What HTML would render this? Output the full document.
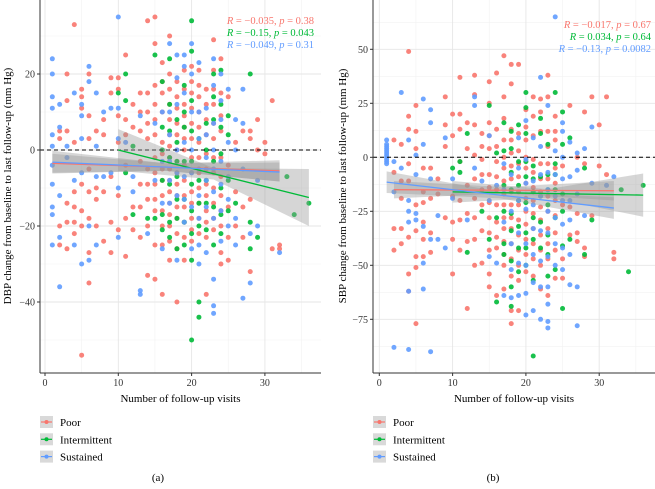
<!DOCTYPE html>
<html><head><meta charset="utf-8">
<style>
body{margin:0;background:#fff;width:655px;height:484px;overflow:hidden;font-family:"Liberation Serif",serif}
svg text{font-family:"Liberation Serif",serif}
</style></head>
<body>
<svg id="chart" width="655" height="484" xmlns="http://www.w3.org/2000/svg"></svg>
<script>
const seriesNames=["Poor","Intermittent","Sustained"];
const seriesColors=["#F8766D","#00BA38","#619CFF"];
const xTicks=[0,10,20,30];
const yTicksA=[20,0,-20,-40];
const yTicksB=[50,25,0,-25,-50,-75];
const annotA=[["R = \u22120.035, ","p"," = 0.38"],["R = \u22120.15, ","p"," = 0.043"],["R = \u22120.049, ","p"," = 0.31"]];
const annotB=[["R = \u22120.017, ","p"," = 0.67"],["R = 0.034, ","p"," = 0.64"],["R = \u22120.13, ","p"," = 0.0082"]];
const poorA=[[2,3],[2,-20],[2,-25],[2,5],[3,20],[3,13],[3,-19],[3,-26],[3,-14],[3,5],[4,33],[4,2],[4,-11],[4,-15],[4,-19],[4,-22],[5,16],[5,14],[5,11],[5,-9],[5,-16],[5,-20],[5,-54],[6,20],[6,9],[6,3],[6,-5],[6,-11],[6,-18],[6,-27],[6,-35],[7,5],[7,-10],[7,-13],[7,-20],[8,8],[8,4],[8,-11],[8,-24],[9,19],[9,15],[9,-7],[9,-19],[9,-27],[10,19],[10,16],[10,9],[10,2],[10,-12],[10,-21],[11,25],[11,8],[11,4],[11,-4],[11,-18],[11,-28],[12,12],[12,6],[12,-15],[12,-21],[13,15],[13,5],[13,-9],[13,-23],[14,34],[14,15],[14,10],[14,3],[14,-5],[14,-13],[14,-20],[14,-33],[15,35],[15,28],[15,17],[15,12],[15,8],[15,-2],[15,-9],[15,-16],[15,-25],[15,-34],[16,23],[16,15],[16,10],[16,2],[16,-5],[16,-12],[16,-20],[16,-38],[17,30],[17,20],[17,16],[17,8],[17,1],[17,-5],[17,-11],[17,-17],[17,-24],[17,-29],[18,18],[18,11],[18,4],[18,-3],[18,-9],[18,-15],[18,-22],[18,-40],[19,21],[19,16],[19,9],[19,3],[19,-4],[19,-12],[19,-19],[19,-29],[20,22],[20,15],[20,7],[20,-2],[20,-11],[20,-18],[20,-24],[21,21],[21,14],[21,6],[21,-6],[21,-14],[21,-22],[22,16],[22,8],[22,-1],[22,-9],[22,-16],[22,-23],[22,-38],[23,29],[23,21],[23,12],[23,3],[23,-6],[23,-14],[23,-21],[24,24],[24,9],[24,-2],[24,-12],[24,-20],[24,-27],[24,-30],[25,14],[25,-4],[25,-15],[25,-23],[25,-29],[26,2],[26,-11],[26,-20],[27,5],[27,-15],[27,-23],[28,5],[28,3],[28,-13],[28,-32],[29,8],[29,0],[30,2],[30,-1],[31,13],[31,-26],[32,-25],[32,-26],
[16,18],[16,-1],[16,-8],[16,-16],[16,-25],[17,12],[17,4],[17,-2],[17,-8],[17,-14],[17,-20],[18,14],[18,7],[18,0],[18,-6],[18,-12],[18,-18],[18,-26],[19,12],[19,6],[19,0],[19,-8],[19,-15],[19,-23],[20,18],[20,11],[20,3],[20,-6],[20,-14],[20,-21],[21,17],[21,10],[21,2],[21,-2],[21,-10],[21,-18],[22,12],[22,4],[22,-5],[22,-12],[22,-19],[23,16],[23,7],[23,-2],[23,-10],[23,-18],[24,15],[24,5],[24,-7],[24,-16],[15,4],[15,-6],[15,-13],[14,-9],[14,7],[13,10],[13,-3],[13,-15]];
const interA=[[10,15],[11,20],[11,13],[11,-6],[12,1],[12,-17],[14,-18],[15,25],[15,-18],[16,18],[16,6],[16,-8],[16,-17],[16,-21],[17,24],[17,12],[17,5],[17,-9],[17,-19],[17,-23],[18,8],[18,2],[18,-7],[18,-13],[18,-26],[19,17],[19,6],[19,-3],[19,-13],[19,-25],[20,34],[20,26],[20,13],[20,5],[20,-9],[20,-16],[20,-29],[20,-50],[21,3],[21,-8],[21,-20],[21,-40],[21,-44],[22,7],[22,-14],[22,-21],[23,20],[23,14],[23,-3],[23,-15],[23,-25],[24,21],[24,12],[24,6],[24,-1],[24,-17],[24,-22],[25,9],[25,4],[25,-16],[26,-14],[28,20],[28,-19],[28,-26],[29,-23],[33,-7],[34,-17],[36,-14],
[18,-3],[18,-18],[19,10],[19,-19],[20,-3],[20,-22],[21,-14],[22,0],[22,-8],[23,8],[24,-10],[25,-8],[17,-2],[16,0]];
const sustA=[[1,24],[1,20],[1,14],[1,11],[1,4],[1,1],[1,-4],[1,-9],[1,-15],[1,-17],[1,-25],[2,12],[2,6],[2,-12],[2,-23],[2,-36],[3,1],[3,-2],[4,15],[4,-8],[4,-25],[5,12],[5,9],[5,3],[5,-6],[5,-30],[6,22],[6,18],[6,-20],[6,-29],[7,15],[7,1],[7,-7],[7,-25],[8,10],[8,-7],[9,11],[9,-6],[10,35],[10,11],[10,3],[10,-10],[10,-23],[11,2],[12,-7],[12,-11],[13,9],[13,-37],[13,-38],[14,-22],[15,7],[15,-8],[16,10],[16,-3],[16,-14],[16,-26],[17,28],[17,10],[17,-3],[17,-14],[18,25],[18,19],[18,-6],[18,-29],[19,25],[19,22],[19,-7],[19,-19],[20,28],[20,20],[20,0],[20,-15],[20,-26],[21,23],[21,10],[21,-12],[21,-25],[21,-30],[22,11],[22,4],[22,-8],[22,-27],[23,24],[23,17],[23,7],[23,-11],[23,-34],[23,-41],[23,-43],[24,20],[24,8],[24,-9],[24,-24],[25,16],[25,-7],[25,-13],[26,8],[26,-18],[26,-25],[27,16],[27,7],[27,-5],[27,-39],[28,-22],[28,-35],[29,-8],[29,-20],[32,-27],
[17,4],[17,-8],[18,12],[18,0],[18,-12],[19,15],[19,2],[19,-13],[20,10],[20,-6],[21,3],[21,-5],[21,-18],[22,-2],[22,-15],[23,0],[23,-5],[23,-18],[24,13],[24,-3],[24,-16],[25,2],[25,-20],[26,0]];
const poorB=[[2,8],[2,-7],[2,-33],[2,-43],[3,6],[3,-11],[3,-19],[3,-33],[3,-40],[4,49],[4,19],[4,13],[4,-3],[4,-11],[4,-37],[4,-54],[4,-62],[5,24],[5,12],[5,4],[5,-22],[5,-34],[5,-46],[5,-51],[5,-77],[6,-5],[6,-16],[6,-21],[6,-30],[6,-38],[6,-46],[7,-5],[7,-19],[7,-35],[7,-44],[8,-10],[8,-17],[9,28],[9,15],[9,5],[9,-28],[10,20],[10,10],[10,-18],[10,-30],[10,-38],[10,-54],[11,37],[11,20],[11,13],[11,-2],[11,-20],[11,-29],[11,-43],[12,16],[12,4],[12,-13],[12,-26],[12,-39],[12,-70],[13,38],[13,29],[13,15],[13,1],[13,-19],[13,-38],[13,-50],[14,11],[14,5],[14,-8],[14,-22],[14,-34],[14,-49],[15,35],[15,25],[15,16],[15,4],[15,-8],[15,-21],[15,-35],[15,-43],[15,-54],[15,-60],[16,39],[16,13],[16,-2],[16,-15],[16,-30],[16,-42],[16,-64],[17,47],[17,28],[17,18],[17,8],[17,-5],[17,-17],[17,-28],[17,-39],[17,-50],[17,-61],[18,43],[18,34],[18,13],[18,2],[18,-10],[18,-22],[18,-33],[18,-47],[18,-71],[18,-77],[19,43],[19,11],[19,-3],[19,-16],[19,-29],[19,-43],[19,-57],[19,-71],[20,22],[20,8],[20,-5],[20,-19],[20,-31],[20,-45],[20,-53],[21,28],[21,19],[21,-1],[21,-14],[21,-26],[21,-40],[21,-55],[22,27],[22,21],[22,-10],[22,-23],[22,-36],[22,-50],[22,-61],[23,38],[23,28],[23,12],[23,-3],[23,-18],[23,-33],[23,-47],[23,-64],[24,19],[24,8],[24,-12],[24,-27],[24,-43],[24,-56],[25,-4],[25,-22],[25,-47],[25,-56],[26,24],[26,-23],[26,-36],[27,0],[27,-26],[27,-35],[27,-39],[28,21],[28,-3],[28,-42],[28,-46],[29,28],[29,-27],[30,15],[30,-4],[31,28],[31,-8],[32,-44],[32,-47],
[16,5],[16,-9],[16,-22],[16,-37],[17,0],[17,-11],[17,-22],[17,-33],[17,-45],[18,8],[18,-4],[18,-16],[18,-28],[18,-40],[18,-55],[19,3],[19,-9],[19,-22],[19,-36],[19,-50],[20,14],[20,0],[20,-12],[20,-25],[20,-38],[21,10],[21,-7],[21,-20],[21,-33],[21,-47],[22,12],[22,-3],[22,-16],[22,-29],[22,-43],[23,5],[23,-10],[23,-25],[23,-40],[24,12],[24,-5],[24,-20],[24,-35],[15,10],[15,-14],[15,-28],[14,-15],[14,-1],[13,-10],[13,-28]];
const interB=[[10,-5],[11,-2],[11,-7],[12,11],[12,-44],[14,-25],[15,24],[15,-38],[16,2],[16,-28],[16,-67],[17,16],[17,3],[17,-13],[17,-40],[17,-45],[18,12],[18,4],[18,-7],[18,-26],[18,-34],[18,-60],[18,-69],[19,15],[19,-2],[19,-13],[19,-42],[19,-53],[20,30],[20,23],[20,11],[20,-9],[20,-21],[20,-35],[20,-50],[21,-4],[21,-16],[21,-28],[21,-57],[21,-92],[22,18],[22,11],[22,-9],[22,-30],[22,-42],[23,6],[23,-8],[23,-22],[23,-36],[23,-55],[24,30],[24,-3],[24,-15],[24,-28],[24,-52],[25,21],[25,6],[25,-17],[25,-41],[25,-70],[26,9],[26,-38],[28,-5],[28,-45],[29,-29],[33,-15],[34,-53],[36,-13],
[17,-25],[18,-15],[18,-48],[19,-20],[19,-32],[20,-2],[20,-42],[21,-10],[21,-38],[22,-18],[23,-15],[23,-45],[24,-8],[25,-25]];
const sustB=[[1,8],[1,6],[1,5],[1,4],[1,3],[1,2],[1,1],[1,0],[1,-1],[1,-2],[1,-3],[2,-2],[2,-16],[2,-88],[3,30],[3,-5],[4,8],[4,-20],[4,-25],[4,-30],[4,-62],[4,-89],[5,1],[5,-8],[5,-26],[5,-29],[6,27],[6,6],[6,-32],[6,-49],[6,-61],[7,22],[7,16],[7,-10],[7,-38],[7,-90],[8,-27],[8,-38],[9,9],[9,-42],[10,-10],[10,-19],[12,-29],[13,28],[13,24],[13,-5],[14,-11],[15,10],[15,-20],[15,-46],[16,-13],[16,-49],[17,-3],[17,-30],[17,-64],[18,-8],[18,-40],[18,-65],[19,9],[19,-20],[19,-49],[19,-64],[20,17],[20,-1],[20,-24],[20,-40],[20,-63],[20,-73],[21,9],[21,-11],[21,-33],[21,-45],[21,-71],[22,37],[22,5],[22,-18],[22,-34],[22,-48],[22,-75],[23,24],[23,-7],[23,-25],[23,-46],[23,-60],[23,-68],[23,-76],[23,-79],[24,65],[24,3],[24,-18],[24,-40],[25,16],[25,12],[25,-10],[25,-31],[25,-52],[26,7],[26,-9],[26,-29],[26,-45],[26,-59],[27,2],[27,-6],[27,-17],[27,-60],[27,-78],[28,4],[28,-27],[29,14],[29,-12],[31,-13],[32,-9],
[17,-15],[18,-25],[18,-52],[19,-5],[19,-35],[20,-12],[20,-50],[21,-22],[21,-58],[22,-8],[22,-60],[23,-15],[23,-35],[24,-8],[24,-28],[24,-50],[25,0],[25,-20],[25,-42],[26,-20]];
// fits: [x0, y0, x1, y1, seStart, seMid, seEnd]
const fitsA=[[1,-3.5,32,-5.5,2.5,1,2.8],[10,0,36,-12.5,5.5,1.5,7.5],[1,-3.2,32,-5.8,3,1,2.5]];
const fitsB=[[2,-15,32,-15.5,4,1.5,4.5],[10,-16,36,-17.5,5,2,10],[1,-11.5,32,-23.5,5,1.5,5]];

const svg=document.getElementById('chart');
const NS='http://www.w3.org/2000/svg';
function mk(tag,attrs,parent){const e=document.createElementNS(NS,tag);for(const k in attrs)e.setAttribute(k,attrs[k]);(parent||svg).appendChild(e);return e;}

function panel(cfg){
  const g=mk('g',{});
  
  
  const X=v=>cfg.x0px+(v-0)*cfg.xs;
  const Y=v=>cfg.y0px-v*cfg.ys;
  const L=cfg.left,R=cfg.right,T=0,B=373;
  mk('rect',{x:L,y:T,width:R-L,height:B-T,fill:'#fff'},g);
  for(let v=-5;v<=40;v+=10){const px=X(v);if(px>L&&px<R)mk('line',{x1:px,x2:px,y1:T,y2:B,stroke:'#f2f2f2','stroke-width':0.6},g);}
  for(let v=cfg.yMinorStart;v<=cfg.yMax;v+=cfg.yStep){const py=Y(v);if(py>T&&py<B)mk('line',{x1:L,x2:R,y1:py,y2:py,stroke:'#f2f2f2','stroke-width':0.6},g);}
  for(const v of xTicks)mk('line',{x1:X(v),x2:X(v),y1:T,y2:B,stroke:'#e6e6e6','stroke-width':0.9},g);
  for(const v of cfg.yTicks)mk('line',{x1:L,x2:R,y1:Y(v),y2:Y(v),stroke:'#e6e6e6','stroke-width':0.9},g);
  cfg.series.forEach((pts,si)=>{
    const sg=mk('g',{},g);
    
    
    for(const p of pts){mk('circle',{cx:X(p[0]),cy:Y(p[1]),r:2.5,fill:seriesColors[si],'fill-opacity':0.9},sg);}
  });
  const zl=mk('line',{x1:L,x2:R,y1:Y(0),y2:Y(0),stroke:'#000','stroke-width':1,'stroke-dasharray':'4,3'},g);
  
  
  cfg.fits.forEach((f,si)=>{
    const [x0,y0,x1,y1,s0,sm,s1]=f;const xm=(x0+x1)/2,ym=(y0+y1)/2;
    const band=mk('polygon',{points:[[x0,y0+s0],[xm,ym+sm],[x1,y1+s1],[x1,y1-s1],[xm,ym-sm],[x0,y0-s0]].map(p=>X(p[0])+','+Y(p[1])).join(' '),fill:'#999','fill-opacity':0.4},g);
    
    
  });
  cfg.fits.forEach((f,si)=>{
    const ln=mk('line',{x1:X(f[0]),y1:Y(f[1]),x2:X(f[2]),y2:Y(f[3]),stroke:seriesColors[si],'stroke-width':1.3},g);
    
    
  });
  mk('line',{x1:L,x2:L,y1:T,y2:B,stroke:'#333','stroke-width':1},g);
  mk('line',{x1:L,x2:R,y1:B,y2:B,stroke:'#333','stroke-width':1},g);
  for(const v of xTicks){mk('line',{x1:X(v),x2:X(v),y1:B,y2:B+3,stroke:'#333'},g);
    const t=mk('text',{x:X(v),y:B+13,'text-anchor':'middle','font-size':10,fill:'#333'},g);t.textContent=v;
    }
  for(const v of cfg.yTicks){mk('line',{x1:L-3,x2:L,y1:Y(v),y2:Y(v),stroke:'#333'},g);
    const t=mk('text',{x:L-5,y:Y(v)+3.5,'text-anchor':'end','font-size':10,fill:'#333'},g);t.textContent=v<0?'\u2212'+(-v):v;
    }
  const xt=mk('text',{x:(L+R)/2,y:402,'text-anchor':'middle','font-size':11,fill:'#000'},g);xt.textContent='Number of follow-up visits';
  
  const yt=mk('text',{x:0,y:0,'text-anchor':'middle','font-size':11,fill:'#000',transform:`translate(${cfg.ytx},186) rotate(-90)`},g);yt.textContent=cfg.ytitle;
  
  cfg.annot.forEach((a,i)=>{
    const t=mk('text',{x:cfg.annX,y:cfg.annY+i*12,'text-anchor':'end','font-size':10.5,fill:seriesColors[i]},g);
    
    
    const s1=mk('tspan',{'font-style':'italic'},t);s1.textContent='R';
    const s2=mk('tspan',{},t);s2.textContent=a[0].slice(1);
    const s3=mk('tspan',{'font-style':'italic'},t);s3.textContent=a[1];
    const s4=mk('tspan',{},t);s4.textContent=a[2];
  });
  seriesNames.forEach((n,i)=>{
    const lg=mk('g',{},g);
    
    
    const cy=422+i*17.3;
    mk('rect',{x:L,y:cy-6,width:13,height:12,fill:'#d9d9d9'},lg);
    mk('line',{x1:L+1,x2:L+12,y1:cy,y2:cy,stroke:seriesColors[i],'stroke-width':1.2},lg);
    mk('circle',{cx:L+6.5,cy:cy,r:2,fill:seriesColors[i]},lg);
    const t=mk('text',{x:L+20,y:cy+4,'font-size':11,fill:'#000'},lg);t.textContent=n;
  });
  const cap=mk('text',{x:cfg.capX,y:481,'text-anchor':'middle','font-size':11,fill:'#000'},g);cap.textContent=cfg.cap;
  
}
panel({name:'panel-a-dbp',left:40,right:321,x0px:45,xs:7.33,y0px:150,ys:3.8,yTicks:yTicksA,yMinorStart:-50,yMax:40,yStep:20,
  series:[poorA,interA,sustA],fits:fitsA,annot:annotA,annX:314,annY:24,ytx:11,ytitle:'DBP change from baseline to last follow-up (mm Hg)',capX:158,cap:'(a)'});
panel({name:'panel-b-sbp',left:373,right:655,x0px:379.3,xs:7.33,y0px:157.3,ys:2.16,yTicks:yTicksB,yMinorStart:-87.5,yMax:70,yStep:25,
  series:[poorB,interB,sustB],fits:fitsB,annot:annotB,annX:651,annY:28,ytx:346,ytitle:'SBP change from baseline to last follow-up (mm Hg)',capX:493,cap:'(b)'});
</script>
</body></html>
